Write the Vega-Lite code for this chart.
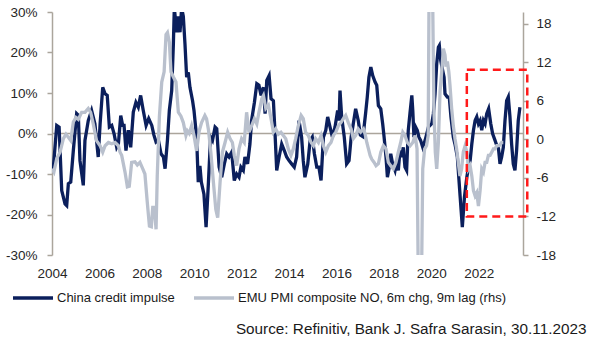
{
  "$schema": "https://vega.github.io/schema/vega-lite/v6.json",
  "width": 471,
  "height": 243,
  "autosize": {"type": "none"},
  "padding": {"left": 52, "top": 12, "right": 66, "bottom": 92},
  "background": "white",
  "config": {
    "view": {"stroke": null},
    "font": "Liberation Sans",
    "axis": {"labelFont": "Liberation Sans", "labelFontSize": 13.5, "labelColor": "#262626", "grid": false, "domainColor": "#aba59c", "tickColor": "#aba59c", "domainWidth": 1.5, "tickWidth": 1.5},
    "legend": {"labelFont": "Liberation Sans", "labelFontSize": 13, "labelColor": "#1a1a1a"}
  },
  "title": {"text": "Source: Refinitiv, Bank J. Safra Sarasin, 30.11.2023", "orient": "bottom", "anchor": "end", "fontSize": 15.3, "fontWeight": "normal", "color": "#1a1a1a", "font": "Liberation Sans", "offset": 17, "dx": 31},
  "datasets": {
    "china": [
      {"year": 2004.00, "value": -8.3}, {"year": 2004.05, "value": -9.0}, {"year": 2004.20, "value": 2.0}, {"year": 2004.30, "value": 1.6},
      {"year": 2004.41, "value": -14.1}, {"year": 2004.55, "value": -17.4}, {"year": 2004.62, "value": -17.8}, {"year": 2004.69, "value": -12.4},
      {"year": 2004.79, "value": -12.0}, {"year": 2004.90, "value": -4.2}, {"year": 2005.04, "value": 4.9}, {"year": 2005.11, "value": 4.5},
      {"year": 2005.18, "value": -6.7}, {"year": 2005.32, "value": -12.8}, {"year": 2005.39, "value": -1.7}, {"year": 2005.53, "value": 3.2},
      {"year": 2005.67, "value": 5.7}, {"year": 2005.81, "value": 2.4}, {"year": 2005.95, "value": -5.8}, {"year": 2006.03, "value": 2.4},
      {"year": 2006.14, "value": 11.4}, {"year": 2006.24, "value": 9.8}, {"year": 2006.33, "value": 9.4}, {"year": 2006.42, "value": 1.6},
      {"year": 2006.52, "value": 2.0}, {"year": 2006.62, "value": -0.1}, {"year": 2006.73, "value": -3.4}, {"year": 2006.80, "value": -2.6},
      {"year": 2006.90, "value": 4.4}, {"year": 2006.98, "value": 2.0}, {"year": 2007.04, "value": 2.0}, {"year": 2007.12, "value": -4.2},
      {"year": 2007.22, "value": 0.8}, {"year": 2007.32, "value": -3.4}, {"year": 2007.43, "value": 5.3}, {"year": 2007.54, "value": 7.7},
      {"year": 2007.64, "value": 6.5}, {"year": 2007.74, "value": 9.4}, {"year": 2007.85, "value": 5.7}, {"year": 2007.97, "value": 2.0},
      {"year": 2008.08, "value": 3.7}, {"year": 2008.21, "value": 2.0}, {"year": 2008.30, "value": -0.4}, {"year": 2008.39, "value": -2.1},
      {"year": 2008.49, "value": -1.7}, {"year": 2008.60, "value": -5.0}, {"year": 2008.70, "value": -5.8}, {"year": 2008.77, "value": -8.7},
      {"year": 2008.87, "value": -1.7}, {"year": 2008.95, "value": 5.7}, {"year": 2009.05, "value": 10.6}, {"year": 2009.12, "value": 22.1},
      {"year": 2009.16, "value": 31}, {"year": 2009.26, "value": 25.0}, {"year": 2009.33, "value": 28.9}, {"year": 2009.40, "value": 25.0},
      {"year": 2009.47, "value": 31}, {"year": 2009.54, "value": 28.9}, {"year": 2009.61, "value": 22.1}, {"year": 2009.68, "value": 13.9},
      {"year": 2009.75, "value": 15.1}, {"year": 2009.82, "value": 11.4}, {"year": 2009.93, "value": 8.1}, {"year": 2009.99, "value": 5.7},
      {"year": 2010.10, "value": -0.9}, {"year": 2010.17, "value": -12.0}, {"year": 2010.24, "value": -8.0}, {"year": 2010.30, "value": -12.0},
      {"year": 2010.41, "value": -15.0}, {"year": 2010.50, "value": -23.1}, {"year": 2010.60, "value": -12.0}, {"year": 2010.69, "value": -0.9},
      {"year": 2010.77, "value": -1.7}, {"year": 2010.88, "value": 1.6}, {"year": 2010.95, "value": 1.2}, {"year": 2011.05, "value": -8.3},
      {"year": 2011.16, "value": -10.8}, {"year": 2011.27, "value": -7.5}, {"year": 2011.37, "value": -5.0}, {"year": 2011.47, "value": -5.8},
      {"year": 2011.58, "value": -4.6}, {"year": 2011.69, "value": -11.6}, {"year": 2011.79, "value": -10.0}, {"year": 2011.89, "value": -10.8},
      {"year": 2011.97, "value": -8.3}, {"year": 2012.07, "value": -9.1}, {"year": 2012.14, "value": -5.8}, {"year": 2012.25, "value": -7.5},
      {"year": 2012.35, "value": -2.6}, {"year": 2012.42, "value": 3.2}, {"year": 2012.54, "value": 7.7}, {"year": 2012.64, "value": 12.3},
      {"year": 2012.73, "value": 11.9}, {"year": 2012.82, "value": 9.4}, {"year": 2012.92, "value": 11.4}, {"year": 2012.99, "value": 4.9},
      {"year": 2013.06, "value": 13.1}, {"year": 2013.16, "value": 14.3}, {"year": 2013.24, "value": 8.6}, {"year": 2013.34, "value": 8.1},
      {"year": 2013.41, "value": -0.1}, {"year": 2013.48, "value": -9.1}, {"year": 2013.58, "value": -5.8}, {"year": 2013.69, "value": -2.6},
      {"year": 2013.80, "value": -4.2}, {"year": 2013.90, "value": -5.8}, {"year": 2014.00, "value": -6.7}, {"year": 2014.11, "value": -7.5},
      {"year": 2014.22, "value": -8.3}, {"year": 2014.32, "value": -5.8}, {"year": 2014.42, "value": 3.2}, {"year": 2014.53, "value": -0.9},
      {"year": 2014.60, "value": -6.7}, {"year": 2014.67, "value": -10.8}, {"year": 2014.79, "value": -7.5}, {"year": 2014.89, "value": -1.7},
      {"year": 2014.98, "value": -0.9}, {"year": 2015.07, "value": -5.0}, {"year": 2015.17, "value": -8.3}, {"year": 2015.26, "value": -8.3},
      {"year": 2015.35, "value": -11.6}, {"year": 2015.45, "value": -0.9}, {"year": 2015.55, "value": 0.8}, {"year": 2015.63, "value": 4.1},
      {"year": 2015.73, "value": 1.6}, {"year": 2015.83, "value": -0.9}, {"year": 2015.94, "value": 1.6}, {"year": 2016.05, "value": 5.7},
      {"year": 2016.11, "value": 3.2}, {"year": 2016.15, "value": 10.6}, {"year": 2016.22, "value": 4.1}, {"year": 2016.33, "value": -0.9},
      {"year": 2016.43, "value": -7.5}, {"year": 2016.53, "value": -6.7}, {"year": 2016.62, "value": -0.9}, {"year": 2016.71, "value": 2.4},
      {"year": 2016.81, "value": 6.1}, {"year": 2016.92, "value": 3.2}, {"year": 2017.01, "value": -0.4}, {"year": 2017.12, "value": -0.8},
      {"year": 2017.23, "value": 5.0}, {"year": 2017.30, "value": 9.0}, {"year": 2017.37, "value": 13.9}, {"year": 2017.45, "value": 16.4},
      {"year": 2017.53, "value": 14.3}, {"year": 2017.63, "value": 12.7}, {"year": 2017.70, "value": 11.9}, {"year": 2017.77, "value": 6.9},
      {"year": 2017.87, "value": 6.1}, {"year": 2017.95, "value": 2.4}, {"year": 2018.01, "value": -0.9}, {"year": 2018.09, "value": -5.8},
      {"year": 2018.15, "value": -10.8}, {"year": 2018.23, "value": -8.3}, {"year": 2018.29, "value": -5.0}, {"year": 2018.37, "value": -7.5},
      {"year": 2018.47, "value": -9.1}, {"year": 2018.54, "value": -6.7}, {"year": 2018.61, "value": -9.1}, {"year": 2018.68, "value": -4.2},
      {"year": 2018.75, "value": -5.8}, {"year": 2018.82, "value": -3.4}, {"year": 2018.89, "value": -8.3}, {"year": 2018.96, "value": -9.1},
      {"year": 2019.03, "value": 0.8}, {"year": 2019.10, "value": 4.9}, {"year": 2019.18, "value": 9.4}, {"year": 2019.22, "value": 5.7},
      {"year": 2019.27, "value": -0.9}, {"year": 2019.34, "value": 1.6}, {"year": 2019.41, "value": 0.8}, {"year": 2019.48, "value": -0.9},
      {"year": 2019.55, "value": -1.7}, {"year": 2019.64, "value": -3.4}, {"year": 2019.74, "value": -1.7}, {"year": 2019.81, "value": -0.1},
      {"year": 2019.88, "value": 1.6}, {"year": 2019.95, "value": 2.0}, {"year": 2020.02, "value": 2.4}, {"year": 2020.09, "value": 4.9},
      {"year": 2020.16, "value": 9.8}, {"year": 2020.23, "value": 17.2}, {"year": 2020.30, "value": 21.3}, {"year": 2020.34, "value": 21.7},
      {"year": 2020.40, "value": 18.0}, {"year": 2020.48, "value": 15.6}, {"year": 2020.54, "value": 13.9}, {"year": 2020.58, "value": 9.8},
      {"year": 2020.68, "value": 9.0}, {"year": 2020.76, "value": 9.0}, {"year": 2020.83, "value": 4.1}, {"year": 2020.93, "value": -0.9},
      {"year": 2021.00, "value": -2.6}, {"year": 2021.10, "value": -5.8}, {"year": 2021.17, "value": -11.6}, {"year": 2021.22, "value": -15.7},
      {"year": 2021.26, "value": -19.0}, {"year": 2021.31, "value": -23.1}, {"year": 2021.40, "value": -15.7}, {"year": 2021.50, "value": -10.8},
      {"year": 2021.57, "value": -8.3}, {"year": 2021.64, "value": -6.7}, {"year": 2021.71, "value": -2.6}, {"year": 2021.78, "value": 0.8},
      {"year": 2021.85, "value": 3.2}, {"year": 2021.92, "value": 4.1}, {"year": 2021.99, "value": 2.4}, {"year": 2022.06, "value": 3.2},
      {"year": 2022.13, "value": 0.8}, {"year": 2022.20, "value": 3.2}, {"year": 2022.27, "value": 2.4}, {"year": 2022.34, "value": 4.9},
      {"year": 2022.42, "value": 6.1}, {"year": 2022.51, "value": 2.4}, {"year": 2022.59, "value": -0.1}, {"year": 2022.69, "value": -1.7},
      {"year": 2022.76, "value": -2.9}, {"year": 2022.83, "value": -3.4}, {"year": 2022.90, "value": -7.5}, {"year": 2022.97, "value": -5.8},
      {"year": 2023.04, "value": -3.4}, {"year": 2023.11, "value": 3.2}, {"year": 2023.18, "value": 8.1}, {"year": 2023.25, "value": 9.0},
      {"year": 2023.32, "value": 4.1}, {"year": 2023.39, "value": -2.6}, {"year": 2023.46, "value": -7.5}, {"year": 2023.53, "value": -9.1},
      {"year": 2023.60, "value": -4.2}, {"year": 2023.67, "value": 3.2}, {"year": 2023.74, "value": 6.5}
    ],
    "emu": [
      {"year": 2004.00, "value": -4.6}, {"year": 2004.08, "value": -5.1}, {"year": 2004.20, "value": -3.0}, {"year": 2004.34, "value": -2.0},
      {"year": 2004.48, "value": 0.1}, {"year": 2004.59, "value": 0.8}, {"year": 2004.69, "value": 0.3}, {"year": 2004.79, "value": -0.2},
      {"year": 2004.90, "value": 2.7}, {"year": 2005.01, "value": 3.4}, {"year": 2005.11, "value": 3.1}, {"year": 2005.25, "value": 4.2},
      {"year": 2005.39, "value": 4.2}, {"year": 2005.53, "value": 4.8}, {"year": 2005.63, "value": 4.2}, {"year": 2005.74, "value": 2.4},
      {"year": 2005.88, "value": -0.2}, {"year": 2006.03, "value": -1.0}, {"year": 2006.14, "value": -2.0}, {"year": 2006.24, "value": -1.0},
      {"year": 2006.38, "value": -0.5}, {"year": 2006.52, "value": -0.7}, {"year": 2006.66, "value": -0.5}, {"year": 2006.80, "value": -1.0},
      {"year": 2006.87, "value": -2.0}, {"year": 2006.94, "value": -2.5}, {"year": 2007.08, "value": -5.1}, {"year": 2007.18, "value": -7.4},
      {"year": 2007.26, "value": -7.3}, {"year": 2007.36, "value": -3.6}, {"year": 2007.50, "value": -3.5}, {"year": 2007.60, "value": -4.0},
      {"year": 2007.71, "value": -3.6}, {"year": 2007.83, "value": -4.6}, {"year": 2007.92, "value": -5.4}, {"year": 2008.02, "value": -9.8},
      {"year": 2008.11, "value": -13.5}, {"year": 2008.19, "value": -13.6}, {"year": 2008.25, "value": -10.6}, {"year": 2008.32, "value": -10.6},
      {"year": 2008.39, "value": -14.0}, {"year": 2008.44, "value": -5.7}, {"year": 2008.53, "value": 3.5}, {"year": 2008.63, "value": 8.9},
      {"year": 2008.73, "value": 10.5}, {"year": 2008.81, "value": 16.3}, {"year": 2008.87, "value": 16.6}, {"year": 2008.95, "value": 15.1},
      {"year": 2009.02, "value": 10.5}, {"year": 2009.12, "value": 9.7}, {"year": 2009.23, "value": 8.9}, {"year": 2009.33, "value": 4.2},
      {"year": 2009.44, "value": 3.6}, {"year": 2009.54, "value": 2.6}, {"year": 2009.65, "value": 0.6}, {"year": 2009.71, "value": 1.3},
      {"year": 2009.79, "value": 0.9}, {"year": 2009.89, "value": 2.1}, {"year": 2009.99, "value": 0.6}, {"year": 2010.10, "value": -1.8},
      {"year": 2010.21, "value": 1.3}, {"year": 2010.31, "value": 2.6}, {"year": 2010.45, "value": 3.7}, {"year": 2010.52, "value": 3.2},
      {"year": 2010.60, "value": 1.5}, {"year": 2010.70, "value": -2.0}, {"year": 2010.81, "value": -6.7}, {"year": 2010.91, "value": -10.9},
      {"year": 2010.99, "value": -12.2}, {"year": 2011.09, "value": -6.7}, {"year": 2011.19, "value": -2.0}, {"year": 2011.30, "value": -0.5},
      {"year": 2011.41, "value": 1.1}, {"year": 2011.51, "value": 0.1}, {"year": 2011.61, "value": -0.5}, {"year": 2011.69, "value": -2.5},
      {"year": 2011.79, "value": -4.1}, {"year": 2011.89, "value": -1.5}, {"year": 2012.00, "value": 0.1}, {"year": 2012.11, "value": -0.5},
      {"year": 2012.21, "value": 4.2}, {"year": 2012.31, "value": 1.1}, {"year": 2012.42, "value": 2.1}, {"year": 2012.54, "value": 3.2},
      {"year": 2012.64, "value": 2.4}, {"year": 2012.73, "value": 4.2}, {"year": 2012.85, "value": 6.3}, {"year": 2012.92, "value": 6.8},
      {"year": 2013.02, "value": 4.8}, {"year": 2013.13, "value": 5.3}, {"year": 2013.24, "value": 3.2}, {"year": 2013.34, "value": 1.1},
      {"year": 2013.44, "value": 1.6}, {"year": 2013.55, "value": 0.8}, {"year": 2013.66, "value": 1.1}, {"year": 2013.76, "value": 0.6},
      {"year": 2013.86, "value": 0.1}, {"year": 2013.97, "value": -1.5}, {"year": 2014.08, "value": -2.5}, {"year": 2014.18, "value": -1.5},
      {"year": 2014.28, "value": 0.1}, {"year": 2014.39, "value": 2.1}, {"year": 2014.51, "value": 3.7}, {"year": 2014.60, "value": 3.2},
      {"year": 2014.70, "value": 1.1}, {"year": 2014.81, "value": 0.6}, {"year": 2014.93, "value": -0.5}, {"year": 2015.03, "value": -1.0},
      {"year": 2015.12, "value": 0.1}, {"year": 2015.24, "value": -0.5}, {"year": 2015.35, "value": 0.6}, {"year": 2015.45, "value": -1.0},
      {"year": 2015.55, "value": -2.0}, {"year": 2015.66, "value": -1.0}, {"year": 2015.77, "value": -0.5}, {"year": 2015.87, "value": 0.6},
      {"year": 2015.97, "value": 1.1}, {"year": 2016.08, "value": 2.1}, {"year": 2016.19, "value": 2.6}, {"year": 2016.29, "value": 3.2},
      {"year": 2016.39, "value": 3.7}, {"year": 2016.50, "value": 2.6}, {"year": 2016.62, "value": 1.6}, {"year": 2016.71, "value": 0.1},
      {"year": 2016.81, "value": 0.6}, {"year": 2016.92, "value": 1.6}, {"year": 2017.02, "value": 1.1}, {"year": 2017.14, "value": 1.6},
      {"year": 2017.21, "value": 0.8}, {"year": 2017.28, "value": -0.5}, {"year": 2017.35, "value": -1.5}, {"year": 2017.42, "value": -2.5},
      {"year": 2017.49, "value": -3.1}, {"year": 2017.59, "value": -3.6}, {"year": 2017.67, "value": -4.1}, {"year": 2017.77, "value": -3.8},
      {"year": 2017.87, "value": -2.0}, {"year": 2017.98, "value": -1.0}, {"year": 2018.09, "value": -1.5}, {"year": 2018.19, "value": -3.6},
      {"year": 2018.29, "value": -4.1}, {"year": 2018.40, "value": -4.6}, {"year": 2018.51, "value": -3.6}, {"year": 2018.61, "value": -2.0},
      {"year": 2018.71, "value": -0.5}, {"year": 2018.80, "value": 1.1}, {"year": 2018.89, "value": 0.6}, {"year": 2018.99, "value": -0.5},
      {"year": 2019.11, "value": -1.0}, {"year": 2019.22, "value": -0.5}, {"year": 2019.32, "value": 0.6}, {"year": 2019.40, "value": -1.5},
      {"year": 2019.46, "value": -25}, {"year": 2019.58, "value": -25}, {"year": 2019.64, "value": -4.6}, {"year": 2019.72, "value": -1.5},
      {"year": 2019.80, "value": -1.0}, {"year": 2019.87, "value": 0.6}, {"year": 2019.91, "value": 25}, {"year": 2020.05, "value": 25},
      {"year": 2020.11, "value": 4.8}, {"year": 2020.17, "value": -2.0}, {"year": 2020.23, "value": -4.6}, {"year": 2020.30, "value": -0.5},
      {"year": 2020.37, "value": 7.4}, {"year": 2020.44, "value": 10.5}, {"year": 2020.51, "value": 14.1}, {"year": 2020.58, "value": 13.1},
      {"year": 2020.62, "value": 11.3}, {"year": 2020.68, "value": 12.1}, {"year": 2020.74, "value": 10.5}, {"year": 2020.79, "value": 8.4},
      {"year": 2020.86, "value": 4.8}, {"year": 2020.93, "value": 2.1}, {"year": 2021.00, "value": 0.1}, {"year": 2021.07, "value": -1.5},
      {"year": 2021.14, "value": -3.6}, {"year": 2021.21, "value": -5.7}, {"year": 2021.28, "value": -4.6}, {"year": 2021.35, "value": -2.0},
      {"year": 2021.43, "value": -1.0}, {"year": 2021.50, "value": -2.0}, {"year": 2021.57, "value": -4.6}, {"year": 2021.64, "value": -4.1},
      {"year": 2021.71, "value": -5.7}, {"year": 2021.78, "value": -8.0}, {"year": 2021.85, "value": -8.8}, {"year": 2021.92, "value": -8.3},
      {"year": 2021.99, "value": -10.4}, {"year": 2022.06, "value": -8.0}, {"year": 2022.13, "value": -4.6}, {"year": 2022.20, "value": -5.1},
      {"year": 2022.27, "value": -3.6}, {"year": 2022.34, "value": -3.6}, {"year": 2022.41, "value": -2.5}, {"year": 2022.48, "value": -2.5},
      {"year": 2022.55, "value": -2.0}, {"year": 2022.62, "value": -1.5}, {"year": 2022.69, "value": -1.5}, {"year": 2022.76, "value": -1.0},
      {"year": 2022.87, "value": -1.0}, {"year": 2022.97, "value": -0.5}, {"year": 2023.04, "value": -0.5}
    ],
    "box": [{"x1": 2021.5, "x2": 2024.05, "y1": -12, "y2": 10.8}]
  },
  "layer": [
    {
      "layer": [
        {
          "data": {"values": [{}]},
          "mark": {"type": "rule", "color": "#aba59c", "strokeWidth": 1.5},
          "encoding": {"y": {"datum": 0, "type": "quantitative", "scale": {"domain": [-30, 30], "nice": false}}}
        },
        {
          "data": {"name": "china"},
          "mark": {"type": "line", "clip": true, "strokeWidth": 3.3},
          "encoding": {
            "x": {"field": "year", "type": "quantitative", "title": null, "scale": {"domain": [2004, 2023.87], "nice": false, "zero": false},
              "axis": {"orient": "bottom", "values": [2004, 2006, 2008, 2010, 2012, 2014, 2016, 2018, 2020, 2022], "format": "d", "domain": false, "ticks": false, "labelPadding": 11, "labelFlush": false, "labelOverlap": false, "labelBound": false}},
            "y": {"field": "value", "type": "quantitative", "title": null, "scale": {"domain": [-30, 30], "nice": false},
              "axis": {"orient": "left", "values": [-30, -20, -10, 0, 10, 20, 30], "labelExpr": "datum.value + '%'", "tickSize": 5, "labelPadding": 10}},
            "color": {"datum": "China credit impulse", "type": "nominal",
              "scale": {"domain": ["China credit impulse", "EMU PMI composite NO, 6m chg, 9m lag (rhs)"], "range": ["#0b1f5c", "#b9c0cd"]},
              "legend": {"orient": "none", "legendX": -41, "legendY": 264, "direction": "horizontal", "title": null, "symbolType": "stroke", "symbolSize": 1600, "symbolStrokeWidth": 3.3, "columnPadding": 12, "labelOffset": 2, "labelLimit": 400}}
          }
        }
      ]
    },
    {
      "layer": [
        {
          "data": {"name": "emu"},
          "mark": {"type": "line", "clip": true, "strokeWidth": 3.3},
          "encoding": {
            "x": {"field": "year", "type": "quantitative", "title": null},
            "y": {"field": "value", "type": "quantitative", "title": null, "scale": {"domain": [-18, 19.8], "nice": false},
              "axis": {"orient": "right", "values": [-18, -12, -6, 0, 6, 12, 18], "labelExpr": "datum.value + ''", "tickSize": 5, "labelPadding": 8}},
            "color": {"datum": "EMU PMI composite NO, 6m chg, 9m lag (rhs)", "type": "nominal"}
          }
        },
        {
          "data": {"name": "box"},
          "mark": {"type": "rect", "fillOpacity": 0, "stroke": "#ff1a1a", "strokeWidth": 2.5, "strokeDash": [8, 5]},
          "encoding": {
            "x": {"field": "x1", "type": "quantitative", "title": null},
            "x2": {"field": "x2"},
            "y": {"field": "y1", "type": "quantitative", "title": null},
            "y2": {"field": "y2"}
          }
        }
      ]
    }
  ],
  "resolve": {"scale": {"y": "independent"}}
}
